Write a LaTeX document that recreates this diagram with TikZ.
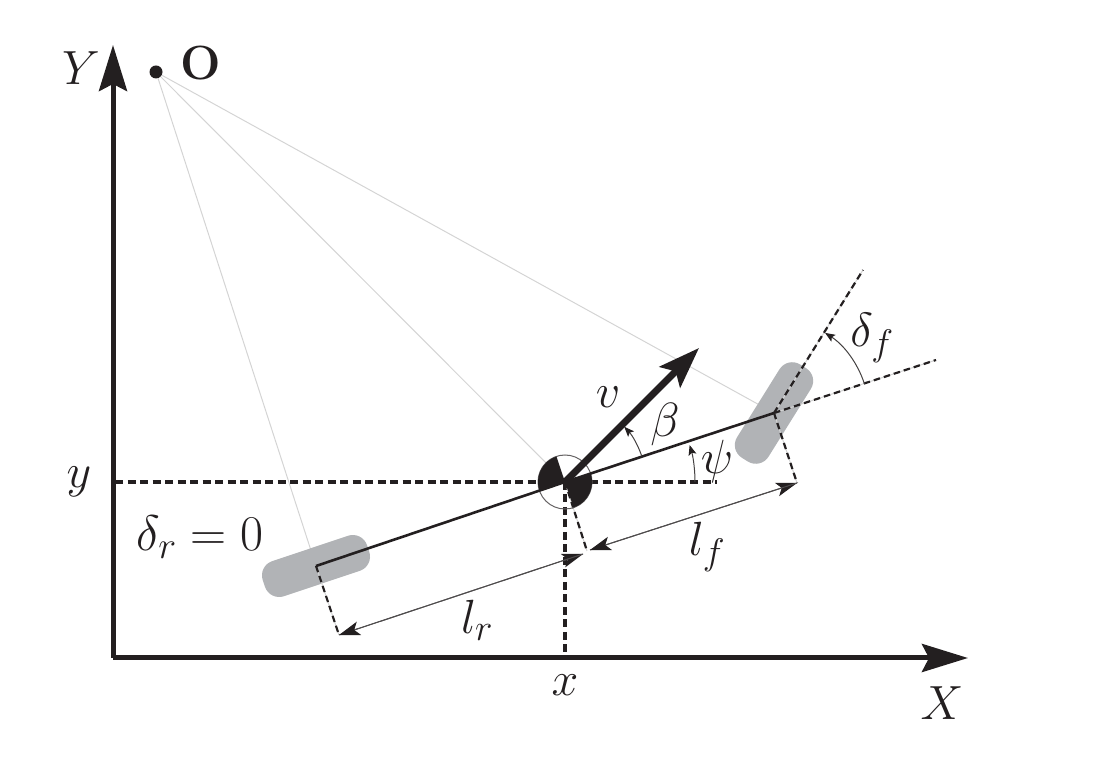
\RequirePackage{fix-cm}
\documentclass[tikz,border=0pt]{standalone}
\usetikzlibrary{arrows.meta}
\definecolor{ink}{HTML}{231F20}
\definecolor{wheelgray}{HTML}{B1B3B6}
\definecolor{raygray}{HTML}{D4D4D4}
\DeclareMathSizes{48}{48}{37}{28}
\DeclareMathSizes{50}{50}{38}{29}
\tikzset{
  x=1pt,y=1pt,
  every node/.style={text=ink,font=\fontsize{48}{52}\selectfont,inner sep=0pt},
  axisline/.style={draw=ink,line width=5pt,-{Stealth[length=46pt,width=28pt,inset=7pt]}},
  bodyline/.style={draw=ink,line width=2.6pt},
  speedline/.style={draw=ink,line width=7pt,-{Stealth[length=41pt,width=29pt,inset=8pt]}},
  ray/.style={draw=raygray,line width=1pt},
  guide/.style={draw=ink,line width=3.2pt,dash pattern=on 8pt off 4.5pt},
  offset/.style={draw=ink,line width=2.2pt,dash pattern=on 6.5pt off 4pt,preaction={draw=raygray,solid,line width=1pt}},
  dimline/.style={draw=ink!80,line width=1pt,-{Stealth[length=21pt,width=14pt,inset=5pt,color=ink]}},
  anglearc/.style={draw=ink!85,line width=1pt,-{Stealth[length=10pt,width=8pt,inset=2pt,color=ink]}},
  tyre/.style={fill=wheelgray,rounded corners=15pt},
}
\begin{document}
\begin{tikzpicture}
\useasboundingbox (0,0) rectangle (1098,766);
% named points
\coordinate (orig) at (113,108);
\coordinate (ytip) at (113,721);
\coordinate (xtip) at (968,108);
\coordinate (cg) at (565,284);
\coordinate (front) at (774,353);
\coordinate (rear) at (316,200);
\coordinate (vtip) at (699,418);
\coordinate (fdim) at (797,283);
\coordinate (cdim) at (590,216);
\coordinate (cfoot) at (587,215);
\coordinate (rdim) at (339,131);
\coordinate (rtip) at (583,212);
\coordinate (yleft) at (115,284);
\coordinate (yright) at (717,284);
\coordinate (xfoot) at (565,108);
\coordinate (steer) at (863,496);
\coordinate (heading) at (936,406);
\node[circle,fill=ink,minimum size=13pt] (opt) at (156,694) {};
% rays from the instant centre
\draw[ray] (opt) -- (rear);
\draw[ray] (opt) -- (cg);
\draw[ray] (opt) -- (front);
% wheels
\fill[tyre,shift={(front)},rotate=58] (-55,-18.5) rectangle (55,18.5);
\fill[tyre,shift={(rear)},rotate=18.5] (-55,-18.5) rectangle (55,18.5);
% guides
\draw[guide] (yleft) -- (yright);
\draw[guide] (cg) -- (xfoot);
\draw[offset] (cg) -- (cfoot);
\draw[offset] (front) -- (fdim);
\draw[offset] (rear) -- (rdim);
\draw[offset] (front) -- (steer);
\draw[offset] (front) -- (heading);
% centre-of-gravity symbol
\draw[draw=ink!70,line width=1pt] (cg) circle (27);
\fill[ink] (cg) -- ++(18.5:27) arc (18.5:-71.5:27) -- cycle;
\fill[ink] (cg) -- ++(108.5:27) arc (108.5:198.5:27) -- cycle;
% body
\draw[bodyline] (rear) -- (cg);
\draw[bodyline] (cg) -- (front);
% axes
\draw[axisline] (orig) -- (ytip);
\draw[axisline] (orig) -- (xtip);
\draw[speedline] (cg) -- (vtip);
% dimensions
\draw[dimline] (cdim) -- (fdim);
\draw[dimline] (fdim) -- (cdim);
\draw[dimline] (rdim) -- (rtip);
\draw[dimline] (rtip) -- (rdim);
% angles
\draw[anglearc] ([shift={(18.5:81)}]cg) arc (18.5:43:81);
\draw[anglearc] ([shift={(0:130)}]cg) arc (0:16.5:130);
\draw[anglearc] ([shift={(18:95)}]front) arc (18:57.5:95);
% labels
\node (lo) at (201,703) {\textbf{O}};
\node (lY) at (81,698) {$Y$};
\node (lX) at (942,63) {$X$};
\node (lx) at (565,81) {$x$};
\node (ly) at (79,284) {$y$};
\node[font=\fontsize{50}{54}\selectfont] (ldr) at (200,229) {$\delta_r=0$};
\node (lv) at (608,369) {$v$};
\node (lb) at (665,341) {$\beta$};
\node (lp) at (717,304) {$\psi$};
\node (llf) at (707,219) {$l_f$};
\node (llr) at (477,146) {$l_r$};
\node (ldf) at (872,428) {$\delta_f$};
\end{tikzpicture}
\end{document}
